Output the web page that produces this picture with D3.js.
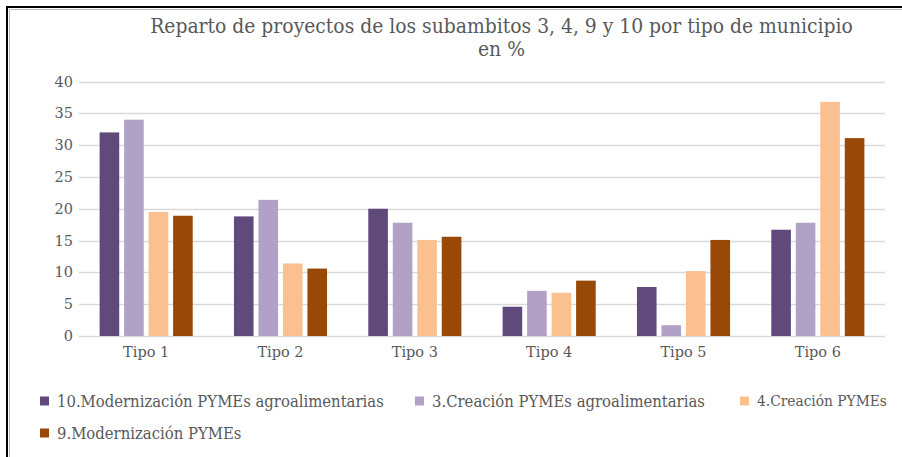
<!DOCTYPE html>
<html><head><meta charset="utf-8">
<script src="https://cdn.jsdelivr.net/npm/d3@7"></script>
<style>
html,body{margin:0;padding:0;background:#fff;}
svg{display:block;}
text{font-family:"DejaVu Serif","Liberation Serif",serif;}
text.cond{font-family:"DejaVu Serif Condensed","DejaVu Serif","Liberation Serif",serif;font-stretch:condensed;}
</style></head>
<body>
<svg id="chart" width="902" height="457"></svg>
<script>
const categories = ["Tipo 1","Tipo 2","Tipo 3","Tipo 4","Tipo 5","Tipo 6"];
const seriesNames = ["10.Modernización PYMEs agroalimentarias","3.Creación PYMEs agroalimentarias","4.Creación PYMEs","9.Modernización PYMEs"];
const serie10 = [32.0, 18.8, 20.0, 4.6, 7.7, 16.7];
const serie3  = [34.0, 21.4, 17.8, 7.1, 1.7, 17.8];
const serie4  = [19.5, 11.4, 15.1, 6.8, 10.2, 36.8];
const serie9  = [18.9, 10.6, 15.6, 8.7, 15.1, 31.1];
const yTicks = [0,5,10,15,20,25,30,35,40];
const colors = ["#604a7b","#b2a1c7","#fac090","#984807"];
const titleLines = ["Reparto de proyectos de los subambitos 3, 4, 9 y 10 por tipo de municipio","en %"];

(function(){
const allSeries = [serie10, serie3, serie4, serie9];
const svg = d3.select("#chart");

// frame
svg.append("path").attr("d","M7,457 L7,7 L902,7").attr("fill","none").attr("stroke","#000").attr("stroke-width",2);
svg.append("path").attr("d","M9.5,457 L9.5,9.5 L902,9.5").attr("fill","none").attr("stroke","#bbb").attr("stroke-width",1);

const pLeft = 79, pRight = 885, pTop = 81.5, pBottom = 336;
const x = d3.scaleBand().domain(categories).range([pLeft,pRight]).paddingInner(0.307).paddingOuter(0.1535);
const xs = d3.scaleBand().domain(d3.range(4)).range([0,x.bandwidth()]).paddingInner(0.2);
const y = d3.scaleLinear().domain([0,40]).range([pBottom,pTop]);

// gridlines
svg.append("g").selectAll("line").data(yTicks).join("line")
  .attr("x1",pLeft).attr("x2",pRight)
  .attr("y1",d=>Math.round(y(d))+0.5).attr("y2",d=>Math.round(y(d))+0.5)
  .attr("stroke","#d9d9d9").attr("stroke-width",1.3);

// y labels
svg.append("g").selectAll("text").data(yTicks).join("text")
  .attr("x",73).attr("y",d=>y(d)).attr("dy","0.35em")
  .attr("text-anchor","end").attr("fill","#595959").attr("font-size",14.5)
  .text(d=>d);

// bars
const g = svg.append("g");
allSeries.forEach((s,si)=>{
  g.append("g").selectAll("rect").data(s).join("rect")
    .attr("x",(d,i)=>x(categories[i])+xs(si))
    .attr("width",xs.bandwidth())
    .attr("y",d=>y(d))
    .attr("height",d=>y(0)-y(d))
    .attr("fill",colors[si]);
});

// x labels
svg.append("g").selectAll("text").data(categories).join("text")
  .attr("x",d=>x(d)+x.bandwidth()/2).attr("y",357)
  .attr("text-anchor","middle").attr("fill","#595959").attr("font-size",14.5)
  .text(d=>d);

function fitWidth(sel, target){
  const w = sel.node().getComputedTextLength();
  const fs = parseFloat(sel.attr("font-size"));
  sel.attr("font-size", fs*target/w);
}

// title
const t1 = svg.append("text").attr("class","cond").attr("x",501.5).attr("y",33).attr("text-anchor","middle")
  .attr("fill","#595959").attr("font-size",19).text(titleLines[0]);
fitWidth(t1,703);
svg.append("text").attr("class","cond").attr("x",501.5).attr("y",56).attr("text-anchor","middle")
  .attr("fill","#595959").attr("font-size",t1.attr("font-size")).text(titleLines[1]);

// legend
const legendPos = [[40,401],[415,401],[740,401],[40,433]];
const legendW = [327,273,130];
const leg = svg.append("g");
const lts = [];
seriesNames.forEach((n,i)=>{
  const [lx,ly] = legendPos[i];
  leg.append("rect").attr("x",lx).attr("y",ly-4.5).attr("width",9).attr("height",9).attr("fill",colors[i]);
  lts.push(leg.append("text").attr("class","cond").attr("x",lx+17).attr("y",ly).attr("dy","0.35em")
    .attr("fill","#595959").attr("font-size",14).text(n));
});
legendW.forEach((w,i)=>fitWidth(lts[i],w));
lts[3].attr("font-size",lts[0].attr("font-size"));
})();
</script>
</body></html>
